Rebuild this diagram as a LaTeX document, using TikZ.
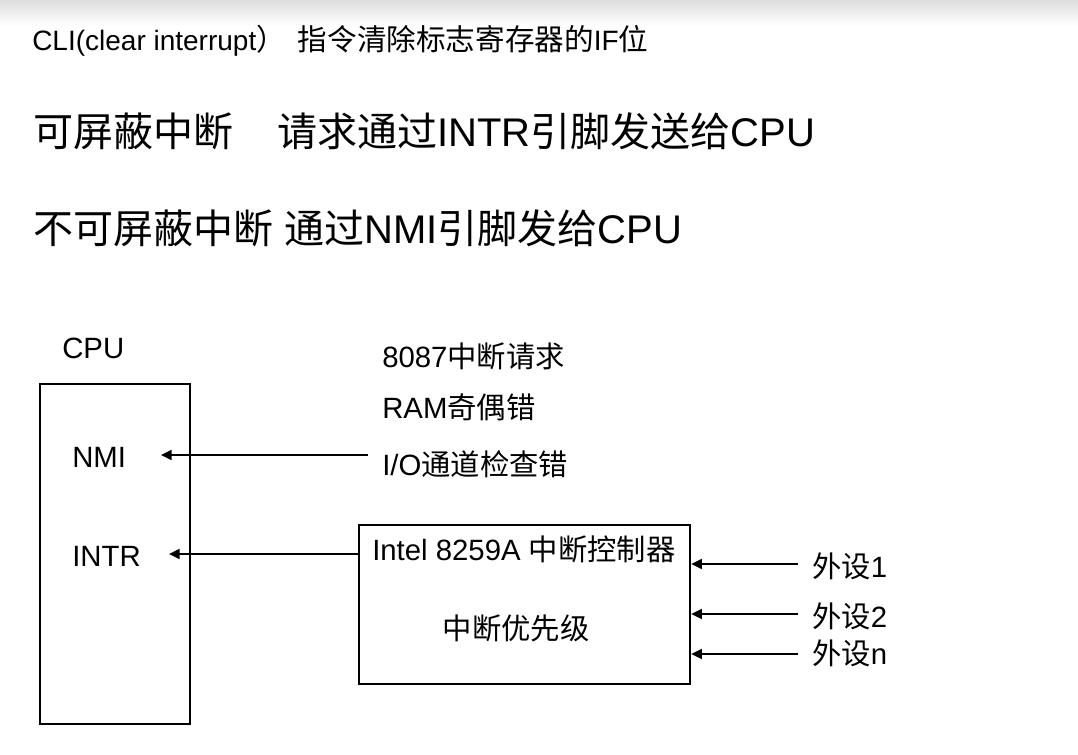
\documentclass[tikz,border=0pt]{standalone}
\usepackage{fontspec}
\setmainfont{Liberation Sans}
\newfontfamily\cjk{Noto Sans CJK SC}
\usetikzlibrary{arrows.meta}
\newcommand{\zh}[1]{{\cjk #1}}
\newcommand{\zht}[1]{{\cjk\fontsize{22.2}{26}\selectfont #1}}
\begin{document}
\begin{tikzpicture}[x=0.75pt,y=-0.75pt,
  txt/.style={inner sep=0pt, anchor=base west},
  big/.style={txt, font=\fontsize{30}{36}\selectfont},
  ttl/.style={txt, font=\fontsize{21}{25}\selectfont},
  lbl/.style={txt, font=\fontsize{22}{26}\selectfont},
  boxn/.style={draw, line width=1.7pt, inner sep=0pt, anchor=north west},
  arr/.style={line width=1.4pt, -{Triangle[length=8pt,width=7.5pt]}}
]
\useasboundingbox (0,0) rectangle (1078,754);
\shade[top color=black!13, bottom color=white] (0,0) rectangle (1078,26);

% header texts
\node[ttl] (title) at (32,50) {CLI(clear interrupt\zht{）\hspace{9pt}指令清除标志寄存器的}IF\zht{位}};
\node[big] (mask) at (33,146) {\zh{可屏蔽中断}\hspace{33pt}\zh{请求通过}INTR\zh{引脚发送给}CPU};
\node[big] (nmask) at (33,243) {\zh{不可屏蔽中断} \zh{通过}NMI\zh{引脚发给}CPU};

% CPU
\node[lbl] (cpulbl) at (62,358) {CPU};
\node[boxn, minimum width=112.5pt, minimum height=255pt] (cpu) at (39,383) {};
\node[lbl] (nmi) at (72,467) {NMI};
\node[lbl] (intr) at (72,566) {INTR};

% NMI sources
\node[lbl] (s1) at (382,367) {8087\zh{中断请求}};
\node[lbl] (s2) at (382,418) {RAM\zh{奇偶错}};
\node[lbl] (s3) at (382,475) {I/O\zh{通道检查错}};

% 8259A
\node[boxn, minimum width=248.25pt, minimum height=119.25pt] (pic) at (358,524) {};
\node[lbl] (pictitle) at (372,560) {Intel 8259A \zh{中断控制器}};
\node[inner sep=0pt, font=\fontsize{22}{26}\selectfont] (prio) at (516,628) {\zh{中断优先级}};

% peripherals
\node[lbl] (d1) at (812,577) {\zh{外设}1};
\node[lbl] (d2) at (812,627) {\zh{外设}2};
\node[lbl] (dn) at (812,664) {\zh{外设}n};

% connector coordinates
\coordinate (nmiS) at (368,455);
\coordinate (nmiT) at (161,455);
\coordinate (intrS) at (358,554);
\coordinate (intrT) at (169,554);
\coordinate (p1) at (798,564);
\coordinate (p2) at (798,614);
\coordinate (pn) at (798,654);

\draw[arr] (nmiS) -- (nmiT);
\draw[arr] (intrS -| pic.west) -- (intrT);
\draw[arr] (p1) -- (p1 -| pic.east);
\draw[arr] (p2) -- (p2 -| pic.east);
\draw[arr] (pn) -- (pn -| pic.east);
\end{tikzpicture}
\end{document}
